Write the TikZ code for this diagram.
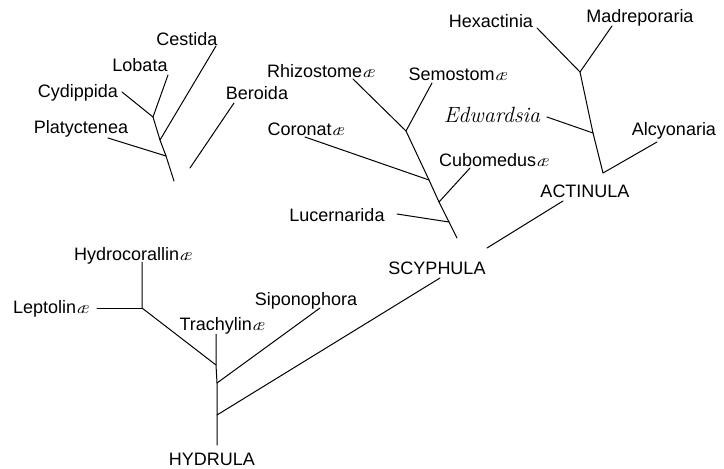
\documentclass[tikz,border=0pt]{standalone}
\usepackage{fontspec}
\setsansfont{Liberation Sans}
\newcommand{\lig}{{\rmfamily\itshape æ}}

\begin{document}
\begin{tikzpicture}[
        x=1pt, y=-1pt, font=\sffamily\fontsize{18}{20}\selectfont,
        taxon/.style={anchor=base, inner sep=0pt},
        genus/.style={taxon, font=\rmfamily\itshape\fontsize{22}{24}\selectfont},
        branch/.style={line width=1pt, line cap=round, line join=round}
    ]
    \useasboundingbox (0,0) rectangle (724,469);

    % Ctenophora
    \node[taxon] (cestida) at (187,45) {Cestida};
    \node[taxon] (lobata) at (140,71) {Lobata};
    \node[taxon] (cydippida) at (78,97) {Cydippida};
    \node[taxon] (platyctenea) at (81,133) {Platyctenea};
    \node[taxon] (beroida) at (257,99) {Beroida};
    \coordinate (cestidaend) at (216,46);
    \coordinate (lobataend) at (168,75);
    \coordinate (cydippidaend) at (122,92);
    \coordinate (platycteneaend) at (108,138);
    \coordinate (beroidaend) at (234,103);
    \coordinate (beroidafoot) at (190,168);
    \coordinate (cten1) at (153,117);
    \coordinate (cten2) at (160,140);
    \coordinate (cten3) at (166,156);
    \coordinate (cten0) at (174,181);
    \draw[branch] (cten1) -- (cten2) -- (cten3) -- (cten0);
    \draw[branch] (cestidaend) -- (cten2);
    \draw[branch] (lobataend) -- (cten1);
    \draw[branch] (cydippidaend) -- (cten1);
    \draw[branch] (platycteneaend) -- (cten3);
    \draw[branch] (beroidaend) -- (beroidafoot);

    % Scyphomedusae
    \node[taxon] (rhizostomeae) at (321,77) {Rhizostome\lig};
    \node[taxon] (semostomae) at (458,80) {Semostom\lig};
    \node[taxon] (coronatae) at (306,135) {Coronat\lig};
    \node[taxon] (cubomedusae) at (494,166) {Cubomedus\lig};
    \node[taxon] (lucernarida) at (337,221) {Lucernarida};
    \node[taxon] (scyphula) at (437,274) {SCYPHULA};
    \coordinate (rhizostomeaeend) at (353,79);
    \coordinate (semostomaeend) at (432,83);
    \coordinate (coronataeend) at (305,137);
    \coordinate (cubomedusaeend) at (470,168);
    \coordinate (lucernaridaend) at (397,214);
    \coordinate (scyph1) at (406,131);
    \coordinate (scyph2) at (429,180);
    \coordinate (scyph3) at (439,202);
    \coordinate (scyph4) at (449,222);
    \coordinate (scyph0) at (457,238);
    \draw[branch] (scyph1) -- (scyph2) -- (scyph3) -- (scyph4) -- (scyph0);
    \draw[branch] (rhizostomeaeend) -- (scyph1);
    \draw[branch] (semostomaeend) -- (scyph1);
    \draw[branch] (coronataeend) -- (scyph2);
    \draw[branch] (cubomedusaeend) -- (scyph3);
    \draw[branch] (lucernaridaend) -- (scyph4);

    % Anthozoa
    \node[taxon] (hexactinia) at (491,27) {Hexactinia};
    \node[taxon] (madreporaria) at (640,22) {Madreporaria};
    \node[genus] (edwardsia) at (492,122) {Edwardsia};
    \node[taxon] (alcyonaria) at (674,135) {Alcyonaria};
    \node[taxon] (actinula) at (585,197) {ACTINULA};
    \coordinate (hexactiniaend) at (537,28);
    \coordinate (madreporariaend) at (612,26);
    \coordinate (edwardsiaend) at (547,117);
    \coordinate (alcyonariaend) at (657,142);
    \coordinate (act1) at (580,72);
    \coordinate (act2) at (593,133);
    \coordinate (act0) at (603,173);
    \draw[branch] (act1) -- (act2) -- (act0) -- (alcyonariaend);
    \draw[branch] (hexactiniaend) -- (act1);
    \draw[branch] (madreporariaend) -- (act1);
    \draw[branch] (edwardsiaend) -- (act2);
    \coordinate (actinulafoot) at (563,201);
    \coordinate (actinulalink) at (487,248);
    \draw[branch] (actinulafoot) -- (actinulalink);

    % Hydromedusae
    \node[taxon] (hydrocorallinae) at (133,260) {Hydrocorallin\lig};
    \node[taxon] (leptolinae) at (51,313) {Leptolin\lig};
    \node[taxon] (trachylinae) at (222,330) {Trachylin\lig};
    \node[taxon] (siponophora) at (306,305) {Siponophora};
    \node[taxon] (hydrula) at (212,465) {HYDRULA};
    \coordinate (hydrocorallinaeend) at (142,262);
    \coordinate (leptolinaeend) at (97,308);
    \coordinate (trachylinaeend) at (216,334);
    \coordinate (siponophoraend) at (320,308);
    \coordinate (scyphulafoot) at (440,278);
    \coordinate (hyd1) at (142,308);
    \coordinate (hyd2) at (216,365);
    \coordinate (hyd3) at (217,383);
    \coordinate (hyd4) at (217,415);
    \coordinate (hyd0) at (217,445);
    \draw[branch] (hydrocorallinaeend) -- (hyd1) -- (hyd2);
    \draw[branch] (leptolinaeend) -- (hyd1);
    \draw[branch] (trachylinaeend) -- (hyd2) -- (hyd3) -- (hyd4) -- (hyd0);
    \draw[branch] (siponophoraend) -- (hyd3);
    \draw[branch] (scyphulafoot) -- (hyd4);
\end{tikzpicture}
\end{document}
